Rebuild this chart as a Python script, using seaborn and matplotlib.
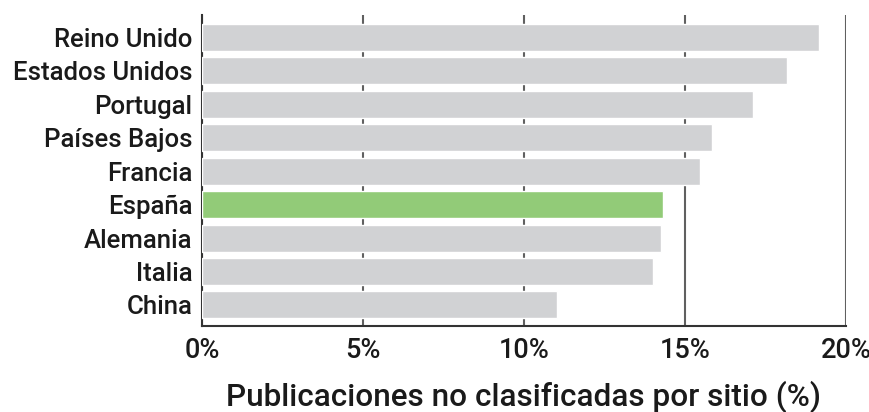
import pandas as pd
import matplotlib.pyplot as plt
import seaborn as sns

paises = ['Reino Unido', 'Estados Unidos', 'Portugal', 'Países Bajos', 'Francia',
          'España', 'Alemania', 'Italia', 'China']
porcentaje = [19.15, 18.17, 17.1, 15.85, 15.47, 14.32, 14.25, 14.0, 11.02]
colores = ['#d1d2d4'] * 5 + ['#92cb78'] + ['#d1d2d4'] * 3

sns.set_style('white')
plt.rcParams['font.family'] = ['Roboto', 'DejaVu Sans']

frame = pd.DataFrame({'pais': paises, 'valor': porcentaje})

fig = plt.figure(figsize=(8.7, 4.12), dpi=100)
ax = fig.add_axes([202 / 870, 1 - 326 / 412, 644 / 870, 311 / 412])
sns.barplot(data=frame, x='valor', y='pais', hue='pais', palette=colores,
            saturation=1, legend=False, width=0.81, ax=ax, zorder=3)

ax.set_xlim(0, 20)
ax.set_ylim(8.63, -0.67)
ax.set_xticks([0, 5, 10, 15, 20])
ax.set_xticklabels(['0%', '5%', '10%', '15%', '20%'])
ax.grid(axis='x', color='#606060', linewidth=1.5, zorder=0)
ax.tick_params(axis='y', length=0, labelsize=18.5, colors='#1a1a1a', pad=7)
ax.tick_params(axis='x', length=0, labelsize=19.5, colors='#1a1a1a', pad=8)
for lab in ax.get_yticklabels() + ax.get_xticklabels():
    lab.set_fontweight('medium')
ax.set_ylabel('')
ax.set_xlabel('Publicaciones no clasificadas por sitio (%)', fontsize=22.7,
              fontweight='medium', color='#1a1a1a', labelpad=12)
for s in ['top', 'right']:
    ax.spines[s].set_visible(False)
for s in ['left', 'bottom']:
    ax.spines[s].set_color('#333333')
    ax.spines[s].set_linewidth(1.5)

plt.savefig('out.png', dpi=100)
